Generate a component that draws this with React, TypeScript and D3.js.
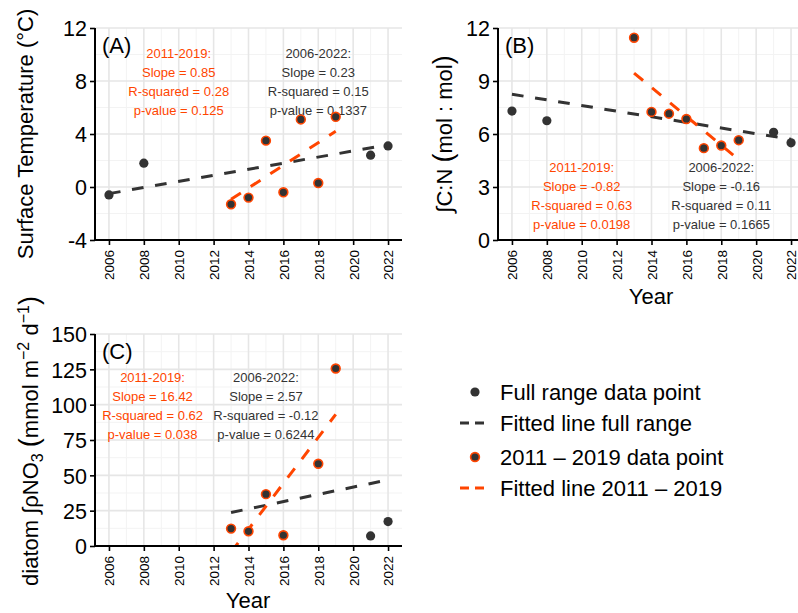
import React, { useEffect, useRef } from 'react';
import * as d3 from 'd3';

const tickYears = [2006, 2008, 2010, 2012, 2014, 2016, 2018, 2020, 2022];

// (A) surface temperature
const tempFullYears = [2006, 2008, 2021, 2022];
const tempFullValues = [-0.6, 1.8, 2.4, 3.1];
const tempSubYears = [2013, 2014, 2015, 2016, 2017, 2018, 2019];
const tempSubValues = [-1.3, -0.8, 3.5, -0.4, 5.1, 0.3, 5.3];
const tempFitFullYears = [2006, 2022];
const tempFitFullValues = [-0.5, 3.18];
const tempFitSubYears = [2013, 2019];
const tempFitSubValues = [-0.93, 4.2];
const tempTicks = [-4, 0, 4, 8, 12];

// (B) integrated C:N
const cnFullYears = [2006, 2008, 2021, 2022];
const cnFullValues = [7.3, 6.75, 6.1, 5.5];
const cnSubYears = [2013, 2014, 2015, 2016, 2017, 2018, 2019];
const cnSubValues = [11.45, 7.25, 7.15, 6.85, 5.2, 5.35, 5.65];
const cnFitFullYears = [2006, 2022];
const cnFitFullValues = [8.25, 5.7];
const cnFitSubYears = [2013, 2019];
const cnFitSubValues = [9.45, 4.55];
const cnTicks = [0, 3, 6, 9, 12];

// (C) diatom integrated pNO3
const diaFullYears = [2021, 2022];
const diaFullValues = [7.1, 17.3];
const diaSubYears = [2013, 2014, 2015, 2016, 2018, 2019];
const diaSubValues = [12.3, 10.4, 36.7, 7.6, 58.2, 125.6];
const diaFitFullYears = [2013, 2022];
const diaFitFullValues = [23.7, 46.8];
const diaFitSubYears = [2013, 2019];
const diaFitSubValues = [-4.4, 93.1];
const diaTicks = [0, 25, 50, 75, 100, 125, 150];

const statsA = {
  sub: ['2011-2019:', 'Slope = 0.85', 'R-squared = 0.28', 'p-value = 0.125'],
  full: ['2006-2022:', 'Slope = 0.23', 'R-squared = 0.15', 'p-value = 0.1337'],
};
const statsB = {
  sub: ['2011-2019:', 'Slope = -0.82', 'R-squared = 0.63', 'p-value = 0.0198'],
  full: ['2006-2022:', 'Slope = -0.16', 'R-squared = 0.11', 'p-value = 0.1665'],
};
const statsC = {
  sub: ['2011-2019:', 'Slope = 16.42', 'R-squared = 0.62', 'p-value = 0.038'],
  full: ['2006-2022:', 'Slope = 2.57', 'R-squared = -0.12', 'p-value = 0.6244'],
};

const legendLabels = [
  'Full range data point',
  'Fitted line full range',
  '2011 \u2013 2019 data point',
  'Fitted line 2011 \u2013 2019',
];

const ORANGE = '#FF4500';
const DARK = '#333333';
const FONT = '"Liberation Sans", Arial, Helvetica, sans-serif';

const panels = [
  {
    id: 'A', tag: '(A)', left: 95, top: 28, bottom: 240, yDomain: [-4, 12], yTicks: tempTicks,
    full: { x: tempFullYears, y: tempFullValues }, sub: { x: tempSubYears, y: tempSubValues },
    fitFull: { x: tempFitFullYears, y: tempFitFullValues }, fitSub: { x: tempFitSubYears, y: tempFitSubValues },
    stats: statsA, statsX: [2010, 2018], statsY: 10.1,
  },
  {
    id: 'B', tag: '(B)', left: 498, top: 28, bottom: 240, yDomain: [0, 12], yTicks: cnTicks,
    full: { x: cnFullYears, y: cnFullValues }, sub: { x: cnSubYears, y: cnSubValues },
    fitFull: { x: cnFitFullYears, y: cnFitFullValues }, fitSub: { x: cnFitSubYears, y: cnFitSubValues },
    stats: statsB, statsX: [2010, 2018], statsY: 4.08,
  },
  {
    id: 'C', tag: '(C)', left: 95, top: 334, bottom: 546, yDomain: [0, 150], yTicks: diaTicks,
    full: { x: diaFullYears, y: diaFullValues }, sub: { x: diaSubYears, y: diaSubValues },
    fitFull: { x: diaFitFullYears, y: diaFitFullValues }, fitSub: { x: diaFitSubYears, y: diaFitSubValues },
    stats: statsC, statsX: [2008.5, 2015], statsY: 118.9,
  },
];

const PANEL_W = 307;

const App = () => {
  const ref = useRef<SVGSVGElement>(null);

  useEffect(() => {
    const svg = d3.select(ref.current);
    svg.selectAll('*').remove();
    svg.attr('font-family', FONT);

    panels.forEach((p) => {
      const right = p.left + PANEL_W;
      const x = d3.scaleLinear().domain([2005.2, 2022.8]).range([p.left, right]);
      const y = d3.scaleLinear().domain(p.yDomain).range([p.bottom, p.top]);
      const g = svg.append('g');

      g.append('clipPath').attr('id', `clip-${p.id}`)
        .append('rect').attr('x', p.left).attr('y', p.top)
        .attr('width', PANEL_W).attr('height', p.bottom - p.top);

      // minor grid
      const minorX = d3.range(2007, 2022, 2);
      const step = p.yTicks[1] - p.yTicks[0];
      const minorY = p.yTicks.slice(0, -1).map((t) => t + step / 2);
      g.selectAll('.mgx').data(minorX).enter().append('line')
        .attr('x1', (d) => x(d)).attr('x2', (d) => x(d))
        .attr('y1', p.top).attr('y2', p.bottom)
        .attr('stroke', '#F3F3F3').attr('stroke-width', 1);
      g.selectAll('.mgy').data(minorY).enter().append('line')
        .attr('x1', p.left).attr('x2', right)
        .attr('y1', (d) => y(d)).attr('y2', (d) => y(d))
        .attr('stroke', '#F3F3F3').attr('stroke-width', 1);
      // major grid
      g.selectAll('.gx').data(tickYears).enter().append('line')
        .attr('x1', (d) => x(d)).attr('x2', (d) => x(d))
        .attr('y1', p.top).attr('y2', p.bottom)
        .attr('stroke', '#E6E6E6').attr('stroke-width', 1.6);
      g.selectAll('.gy').data(p.yTicks).enter().append('line')
        .attr('x1', p.left).attr('x2', right)
        .attr('y1', (d) => y(d)).attr('y2', (d) => y(d))
        .attr('stroke', '#E6E6E6').attr('stroke-width', 1.6);

      // stats text
      const blocks = [
        { lines: p.stats.sub, cx: p.statsX[0], color: ORANGE },
        { lines: p.stats.full, cx: p.statsX[1], color: DARK },
      ];
      blocks.forEach((b) => {
        g.selectAll(null).data(b.lines).enter().append('text')
          .attr('x', x(b.cx))
          .attr('y', (_d, i) => y(p.statsY) + i * 19)
          .attr('dominant-baseline', 'central')
          .attr('text-anchor', 'middle')
          .attr('font-size', 13)
          .attr('fill', b.color)
          .text((d) => d);
      });

      // fitted lines
      const line = d3.line<[number, number]>().x((d) => x(d[0])).y((d) => y(d[1]));
      const fits = [
        { f: p.fitFull, color: DARK },
        { f: p.fitSub, color: ORANGE },
      ];
      fits.forEach(({ f, color }) => {
        g.append('path')
          .attr('d', line(f.x.map((v, i) => [v, f.y[i]] as [number, number])))
          .attr('clip-path', `url(#clip-${p.id})`)
          .attr('fill', 'none')
          .attr('stroke', color)
          .attr('stroke-width', 3)
          .attr('stroke-dasharray', '11.7 11.7');
      });

      // points
      g.selectAll('.pf').data(p.full.x).enter().append('circle')
        .attr('cx', (d) => x(d)).attr('cy', (_d, i) => y(p.full.y[i]))
        .attr('r', 4.6).attr('fill', DARK);
      g.selectAll('.ps').data(p.sub.x).enter().append('circle')
        .attr('cx', (d) => x(d)).attr('cy', (_d, i) => y(p.sub.y[i]))
        .attr('r', 4.4).attr('fill', DARK)
        .attr('stroke', ORANGE).attr('stroke-width', 1.6);

      // axes
      const yAxis = g.append('g').attr('transform', `translate(${p.left},0)`)
        .call(d3.axisLeft(y).tickValues(p.yTicks).tickSize(5).tickPadding(3).tickFormat((d) => String(d)));
      yAxis.select('.domain').remove();
      yAxis.selectAll('.tick line').attr('stroke', '#000').attr('stroke-width', 1.6);
      yAxis.selectAll('.tick text').attr('font-size', 21.5).attr('fill', '#000')
        .attr('font-family', FONT).attr('dy', '0.36em');

      const xAxis = g.append('g').attr('transform', `translate(0,${p.bottom})`)
        .call(d3.axisBottom(x).tickValues(tickYears).tickSize(5).tickFormat((d) => String(d)));
      xAxis.select('.domain').remove();
      xAxis.selectAll('.tick line').attr('stroke', '#000').attr('stroke-width', 1.6);
      xAxis.selectAll('.tick text')
        .attr('font-size', 13.5).attr('fill', '#000').attr('font-family', FONT)
        .attr('text-anchor', 'end')
        .attr('x', -10).attr('y', 0).attr('dy', '0.36em')
        .attr('transform', 'rotate(-90)');

      g.append('line').attr('x1', p.left).attr('x2', p.left)
        .attr('y1', p.top).attr('y2', p.bottom + 1)
        .attr('stroke', '#000').attr('stroke-width', 2);
      g.append('line').attr('x1', p.left - 1).attr('x2', right)
        .attr('y1', p.bottom).attr('y2', p.bottom)
        .attr('stroke', '#000').attr('stroke-width', 2);

      g.append('text').attr('x', p.left + 7).attr('y', p.top + 17)
        .attr('dominant-baseline', 'central')
        .attr('font-size', 22).attr('fill', '#000').text(p.tag);
    });

    // axis titles
    svg.append('text')
      .attr('transform', 'translate(33,134) rotate(-90)')
      .attr('text-anchor', 'middle').attr('font-size', 22).attr('fill', '#000')
      .text('Surface Temperature (\u00B0C)');

    const tB = svg.append('text')
      .attr('transform', 'translate(452,134) rotate(-90)')
      .attr('text-anchor', 'middle').attr('font-size', 22).attr('fill', '#000');
    tB.append('tspan').text('\u222BC:N ');
    tB.append('tspan').attr('font-size', 27).text('(');
    tB.append('tspan').text('mol : mol');
    tB.append('tspan').attr('font-size', 27).text(')');

    const tC = svg.append('text')
      .attr('transform', 'translate(38,441) rotate(-90)')
      .attr('text-anchor', 'middle').attr('font-size', 22).attr('fill', '#000');
    tC.append('tspan').text('diatom \u222B\u03C1NO');
    tC.append('tspan').attr('font-size', 16).attr('dy', 5).text('3');
    tC.append('tspan').attr('dy', -5).text(' ');
    tC.append('tspan').attr('font-size', 27).text('(');
    tC.append('tspan').text('mmol m');
    tC.append('tspan').attr('font-size', 16).attr('dy', -9).text('\u22122');
    tC.append('tspan').attr('dy', 9).text(' d');
    tC.append('tspan').attr('font-size', 16).attr('dy', -9).text('\u22121');
    tC.append('tspan').attr('font-size', 27).attr('dy', 9).text(')');

    svg.append('text').attr('x', 651).attr('y', 304)
      .attr('text-anchor', 'middle').attr('font-size', 22).attr('fill', '#000').text('Year');
    svg.append('text').attr('x', 248).attr('y', 608)
      .attr('text-anchor', 'middle').attr('font-size', 22).attr('fill', '#000').text('Year');

    // legend
    const legendY = [392, 423, 457, 488];
    const lg = svg.append('g');
    lg.append('circle').attr('cx', 475).attr('cy', legendY[0]).attr('r', 4.6).attr('fill', DARK);
    lg.append('line').attr('x1', 460).attr('x2', 489).attr('y1', legendY[1]).attr('y2', legendY[1])
      .attr('stroke', DARK).attr('stroke-width', 3).attr('stroke-dasharray', '9 6');
    lg.append('circle').attr('cx', 475).attr('cy', legendY[2]).attr('r', 4.4).attr('fill', DARK)
      .attr('stroke', ORANGE).attr('stroke-width', 1.6);
    lg.append('line').attr('x1', 460).attr('x2', 489).attr('y1', legendY[3]).attr('y2', legendY[3])
      .attr('stroke', ORANGE).attr('stroke-width', 3).attr('stroke-dasharray', '9 6');
    lg.selectAll('.lt').data(legendLabels).enter().append('text')
      .attr('x', 500).attr('y', (_d, i) => legendY[i])
      .attr('dominant-baseline', 'central')
      .attr('font-size', 22).attr('fill', '#000')
      .text((d) => d);
  }, []);

  return (
    <svg ref={ref} width={798} height={613} style={{ display: 'block', position: 'absolute', left: 0, top: 0, background: '#fff' }} />
  );
};

export default App;
